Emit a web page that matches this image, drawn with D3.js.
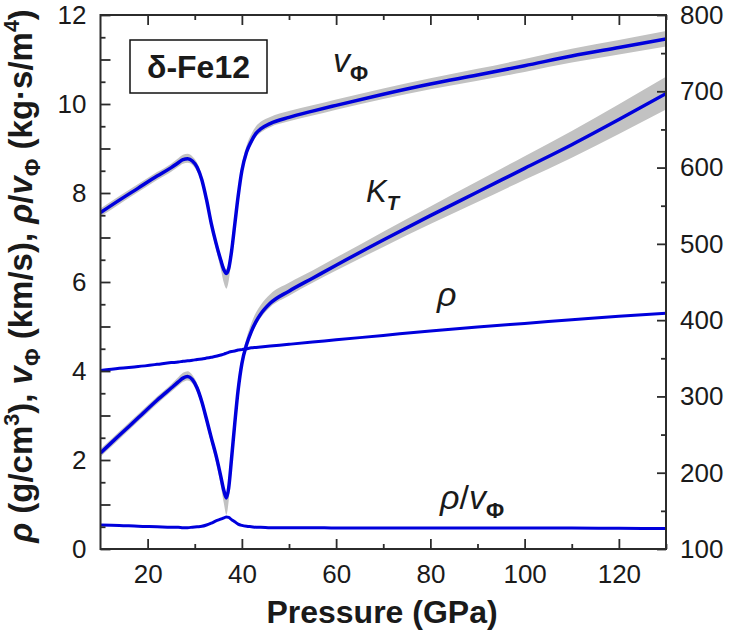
<!DOCTYPE html>
<html>
<head>
<meta charset="utf-8">
<script src="https://cdn.jsdelivr.net/npm/d3@7"></script>
<style>
  body { margin: 0; background: #fff; }
  svg text { font-family: "Liberation Sans", Arial, sans-serif; fill: #1a1a1a; }
</style>
</head>
<body>
<svg id="chart" width="735" height="634"></svg>
<script>
// Pressure grid (GPa) shared by all curves
const pressure = [10, 14, 18, 22, 25, 26.5, 27.5, 28.5, 29.5, 30.5, 31.5, 32.5, 33.5, 34.5, 35.5, 36.2, 36.7, 37.2, 37.8, 38.5, 39.2, 40, 41, 42, 43, 44, 46, 50, 55, 60, 70, 80, 90, 100, 110, 120, 130];

// Bulk sound velocity v_Phi (km/s), left axis
const vPhi = [7.56, 7.84, 8.11, 8.38, 8.57, 8.68, 8.75, 8.77, 8.72, 8.58, 8.30, 7.85, 7.32, 6.88, 6.50, 6.27, 6.19, 6.30, 6.68, 7.30, 7.92, 8.50, 8.92, 9.16, 9.34, 9.44, 9.56, 9.70, 9.84, 9.97, 10.22, 10.45, 10.65, 10.86, 11.08, 11.27, 11.46];
const vPhiErrLo = [0.09, 0.09, 0.09, 0.09, 0.09, 0.09, 0.09, 0.09, 0.09, 0.10, 0.10, 0.11, 0.12, 0.14, 0.20, 0.30, 0.34, 0.28, 0.16, 0.12, 0.11, 0.10, 0.08, 0.08, 0.08, 0.08, 0.08, 0.09, 0.10, 0.10, 0.11, 0.12, 0.13, 0.14, 0.15, 0.16, 0.17];
const vPhiErrHi = [0.09, 0.09, 0.09, 0.09, 0.09, 0.10, 0.11, 0.11, 0.10, 0.10, 0.10, 0.10, 0.10, 0.10, 0.10, 0.10, 0.10, 0.10, 0.10, 0.10, 0.11, 0.13, 0.15, 0.16, 0.16, 0.16, 0.15, 0.14, 0.13, 0.13, 0.13, 0.13, 0.14, 0.15, 0.16, 0.17, 0.18];

// Isothermal bulk modulus K_T (GPa), right axis
const kT = [226, 249, 272, 295, 311, 319, 324, 326, 322, 311, 293, 270, 246, 223, 196, 176, 167, 180, 218, 265, 308, 343, 368, 385, 398, 408, 422, 438, 455, 472, 505, 537, 568, 599, 630, 663, 697];
const kTErrLo = [5, 5, 5, 5, 5, 5, 5, 5, 5, 6, 6, 7, 8, 9, 12, 17, 22, 17, 10, 7, 6, 5, 5, 5, 5, 5, 5, 6, 6, 7, 9, 11, 13, 15, 17, 19, 21];
const kTErrHi = [5, 5, 5, 5, 5, 6, 7, 7, 6, 6, 6, 6, 6, 6, 6, 6, 6, 6, 6, 6, 6, 7, 9, 11, 12, 12, 12, 11, 10, 10, 11, 12, 14, 16, 18, 20, 22];

// Density rho (g/cm^3), left axis
const rho = [4.01, 4.06, 4.10, 4.15, 4.19, 4.20, 4.22, 4.23, 4.24, 4.26, 4.27, 4.29, 4.31, 4.33, 4.36, 4.38, 4.40, 4.42, 4.44, 4.45, 4.47, 4.48, 4.50, 4.52, 4.53, 4.54, 4.56, 4.60, 4.65, 4.70, 4.80, 4.90, 4.99, 5.07, 5.15, 5.23, 5.30];

// rho / v_Phi (kg·s/m^4), left axis
const rhoOverV = [0.54, 0.53, 0.51, 0.50, 0.49, 0.49, 0.48, 0.48, 0.49, 0.50, 0.51, 0.54, 0.58, 0.63, 0.67, 0.70, 0.72, 0.71, 0.66, 0.61, 0.56, 0.53, 0.51, 0.50, 0.49, 0.49, 0.48, 0.48, 0.48, 0.47, 0.47, 0.47, 0.47, 0.47, 0.47, 0.465, 0.46];

// Axis ticks
const xMajorTicks = [20, 40, 60, 80, 100, 120];
const xMinorTicks = [30, 50, 70, 90, 110, 130];
const yLeftMajorTicks = d3.range(0, 13, 1);
const yLeftMinorTicks = d3.range(0.5, 12, 1);
const yLeftLabels = [0, 2, 4, 6, 8, 10, 12];
const yRightMajorTicks = [100, 200, 300, 400, 500, 600, 700, 800];
const yRightMinorTicks = [150, 250, 350, 450, 550, 650, 750];

const svg = d3.select("#chart");
const plot = { left: 100.5, right: 666, top: 15, bottom: 549 };

const x = d3.scaleLinear().domain([10, 130]).range([plot.left, plot.right]);
const yL = d3.scaleLinear().domain([0, 12]).range([plot.bottom, plot.top]);
const yR = d3.scaleLinear().domain([100, 800]).range([plot.bottom, plot.top]);

const BLUE = "#0000dc";
const BAND = "#c2c2c2";
const AXIS = "#2b2b2b";

svg.append("defs").append("clipPath").attr("id", "plotClip")
  .append("rect")
  .attr("x", plot.left).attr("y", plot.top)
  .attr("width", plot.right - plot.left).attr("height", plot.bottom - plot.top);

const g = svg.append("g").attr("clip-path", "url(#plotClip)");
const idx = d3.range(pressure.length);

// Uncertainty bands
const bandArea = (vals, lo, hi, scale) => d3.area()
  .curve(d3.curveMonotoneX)
  .x(i => x(pressure[i]))
  .y0(i => scale(vals[i] - lo[i]))
  .y1(i => scale(vals[i] + hi[i]));

g.append("path").datum(idx).attr("fill", BAND)
  .attr("d", bandArea(vPhi, vPhiErrLo, vPhiErrHi, yL));
g.append("path").datum(idx).attr("fill", BAND)
  .attr("d", bandArea(kT, kTErrLo, kTErrHi, yR));

// Curves
const curve = (vals, scale) => d3.line()
  .curve(d3.curveMonotoneX)
  .x(i => x(pressure[i]))
  .y(i => scale(vals[i]));

g.append("path").datum(idx).attr("fill", "none").attr("stroke", BLUE)
  .attr("stroke-width", 3).attr("d", curve(rho, yL));
g.append("path").datum(idx).attr("fill", "none").attr("stroke", BLUE)
  .attr("stroke-width", 3).attr("d", curve(rhoOverV, yL));
g.append("path").datum(idx).attr("fill", "none").attr("stroke", BLUE)
  .attr("stroke-width", 3.5).attr("d", curve(vPhi, yL));
g.append("path").datum(idx).attr("fill", "none").attr("stroke", BLUE)
  .attr("stroke-width", 3.5).attr("d", curve(kT, yR));

// Axes (inward ticks)
function styleAxis(sel, fontSize) {
  sel.select(".domain").remove();
  sel.selectAll(".tick line").attr("stroke", AXIS).attr("stroke-width", 1.8);
  sel.selectAll(".tick text").attr("fill", "#1a1a1a")
    .style("font-size", fontSize + "px");
}

const TICK_FONT = 26;

svg.append("g").attr("transform", `translate(0,${plot.bottom})`)
  .call(d3.axisBottom(x).tickValues(xMajorTicks).tickSize(-10).tickPadding(15.5))
  .call(s => styleAxis(s, TICK_FONT));
svg.append("g").attr("transform", `translate(0,${plot.bottom})`)
  .call(d3.axisBottom(x).tickValues(xMinorTicks).tickSize(-5).tickFormat(""))
  .call(s => styleAxis(s, TICK_FONT));
svg.append("g").attr("transform", `translate(0,${plot.top})`)
  .call(d3.axisTop(x).tickValues(xMajorTicks).tickSize(-10).tickFormat(""))
  .call(s => styleAxis(s, TICK_FONT));
svg.append("g").attr("transform", `translate(0,${plot.top})`)
  .call(d3.axisTop(x).tickValues(xMinorTicks).tickSize(-5).tickFormat(""))
  .call(s => styleAxis(s, TICK_FONT));

svg.append("g").attr("transform", `translate(${plot.left},0)`)
  .call(d3.axisLeft(yL).tickValues(yLeftMajorTicks).tickSize(-10).tickPadding(14)
    .tickFormat(d => yLeftLabels.includes(d) ? d : ""))
  .call(s => styleAxis(s, TICK_FONT));
svg.append("g").attr("transform", `translate(${plot.left},0)`)
  .call(d3.axisLeft(yL).tickValues(yLeftMinorTicks).tickSize(-5).tickFormat(""))
  .call(s => styleAxis(s, TICK_FONT));

svg.append("g").attr("transform", `translate(${plot.right},0)`)
  .call(d3.axisRight(yR).tickValues(yRightMajorTicks).tickSize(-9).tickPadding(14))
  .call(s => styleAxis(s, TICK_FONT));
svg.append("g").attr("transform", `translate(${plot.right},0)`)
  .call(d3.axisRight(yR).tickValues(yRightMinorTicks).tickSize(-5).tickFormat(""))
  .call(s => styleAxis(s, TICK_FONT));

// Plot frame
svg.append("rect")
  .attr("x", plot.left).attr("y", plot.top)
  .attr("width", plot.right - plot.left).attr("height", plot.bottom - plot.top)
  .attr("fill", "none").attr("stroke", AXIS).attr("stroke-width", 2);

// Rich text helper: segments of {t, i (italic), b (bold), sub, sup}
function richText(parent, segs, attrs) {
  const t = parent.append("text");
  Object.entries(attrs).forEach(([k, v]) => t.attr(k, v));
  let shift = 0;
  segs.forEach(s => {
    const target = s.sub ? 0.25 : s.sup ? -0.38 : 0;
    const ts = t.append("tspan").text(s.t);
    const base = parseFloat(attrs["font-size"]);
    ts.attr("dy", ((target - shift) * base).toFixed(2));
    shift = target;
    if (s.i) ts.style("font-style", "italic");
    if (s.b !== undefined) ts.style("font-weight", s.b ? "bold" : "normal");
    if (s.sub || s.sup) ts.style("font-size", (base * 0.65) + "px");
  });
  return t;
}

// Axis titles
svg.append("text")
  .attr("x", 382).attr("y", 623)
  .attr("text-anchor", "middle")
  .style("font-size", "32px").style("font-weight", "bold")
  .text("Pressure (GPa)");

richText(svg, [
  { t: "ρ", i: true }, { t: " (g/cm" }, { t: "3", sup: true }, { t: "), " },
  { t: "v", i: true }, { t: "Φ", sub: true }, { t: " (km/s), " },
  { t: "ρ", i: true }, { t: "/" }, { t: "v", i: true }, { t: "Φ", sub: true },
  { t: " (kg·s/m" }, { t: "4", sup: true }, { t: ")" }
], {
  "transform": "translate(32,276) rotate(-90)",
  "text-anchor": "middle",
  "font-size": "33",
  "style": "font-size:33px;font-weight:bold"
});

// Sample label box
svg.append("rect")
  .attr("x", 130).attr("y", 40).attr("width", 137).attr("height", 53)
  .attr("fill", "#fff").attr("stroke", "#111").attr("stroke-width", 1.5);
svg.append("text")
  .attr("x", 198.5).attr("y", 78)
  .attr("text-anchor", "middle")
  .style("font-size", "32px").style("font-weight", "bold")
  .text("δ-Fe12");

// Curve labels
richText(svg, [{ t: "v", i: true }, { t: "Φ", sub: true, b: true }],
  { x: 333, y: 72, "font-size": "34", style: "font-size:34px" });
richText(svg, [{ t: "K", i: true }, { t: "T", sub: true, b: true, i: true }],
  { x: 366, y: 202, "font-size": "31", style: "font-size:31px" });
richText(svg, [{ t: "ρ", i: true }],
  { x: 437, y: 306, "font-size": "34", style: "font-size:34px" });
richText(svg, [{ t: "ρ", i: true }, { t: "/" }, { t: "v", i: true }, { t: "Φ", sub: true, b: true }],
  { x: 440, y: 509, "font-size": "34", style: "font-size:34px" });
</script>
</body>
</html>
